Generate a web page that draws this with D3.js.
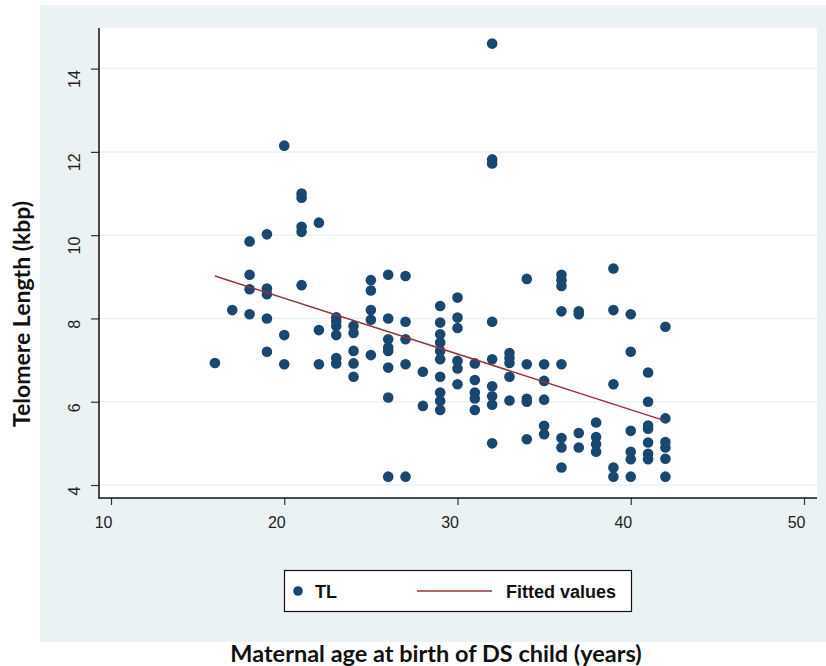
<!DOCTYPE html>
<html>
<head>
<meta charset="utf-8">
<script src="https://cdn.jsdelivr.net/npm/d3@7"></script>
<style>
  html, body { margin: 0; padding: 0; background: #ffffff; }
  svg { display: block; }
</style>
</head>
<body>
<svg id="chart" width="826" height="666"></svg>
<script>
// ---- data ----
const ages = [16,17,18,19,20,21,22,23,24,25,26,27,28,29,30,31,32,33,34,35,36,37,38,39,40,41,42];
const tlByAge = [
  [6.93],
  [8.2],
  [9.85, 9.05, 8.7, 8.1],
  [10.02, 8.72, 8.58, 8.0, 7.2],
  [12.15, 7.6, 6.9],
  [11.0, 10.9, 10.2, 10.08, 8.8],
  [10.3, 7.72, 6.9],
  [8.03, 7.93, 7.82, 7.6, 7.05, 6.92],
  [7.82, 7.65, 7.22, 6.92, 6.6],
  [8.92, 8.67, 8.2, 7.97, 7.12],
  [9.05, 8.0, 7.5, 7.3, 7.22, 6.82, 6.1, 4.2],
  [9.02, 7.92, 7.5, 6.9, 4.2],
  [6.72, 5.9],
  [8.3, 7.9, 7.62, 7.42, 7.22, 7.02, 6.6, 6.22, 6.02, 5.8],
  [8.5, 8.02, 7.77, 6.98, 6.8, 6.42],
  [6.92, 6.52, 6.22, 6.08, 5.8],
  [14.6, 11.82, 11.72, 7.92, 7.02, 6.37, 6.13, 5.93, 5.0],
  [7.17, 7.05, 6.93, 6.6, 6.03],
  [8.95, 6.9, 6.07, 6.0, 5.1],
  [6.9, 6.5, 6.05, 5.42, 5.22],
  [9.05, 8.92, 8.78, 8.17, 6.9, 5.13, 4.9, 4.42],
  [8.17, 8.1, 5.25, 4.9],
  [5.5, 5.15, 4.98, 4.8],
  [9.2, 8.2, 6.42, 4.42, 4.2],
  [8.1, 7.2, 5.3, 4.8, 4.62, 4.2],
  [6.7, 6.0, 5.43, 5.35, 5.02, 4.75, 4.62],
  [7.8, 5.6, 5.03, 4.9, 4.63, 4.2]
];
const fitAge = [16, 42];
const fitTL = [9.02, 5.54];
const xTicks = [10, 20, 30, 40, 50];
const yTicks = [4, 6, 8, 10, 12, 14];
const legendLabels = ["TL", "Fitted values"];
const xTitle = "Maternal age at birth of DS child (years)";
const yTitle = "Telomere Length (kbp)";

// ---- build point table ----
const points = [];
ages.forEach((a, i) => tlByAge[i].forEach(v => points.push({age: a, tl: v})));

const navy = "#1a476f";
const maroon = "#90353b";
const panelBg = "#eaf2f3";

const svg = d3.select("#chart");

// background panel
svg.append("rect").attr("x", 40).attr("y", 5).attr("width", 786).attr("height", 637).attr("fill", panelBg);

const plot = {left: 99, right: 817, top: 28, bottom: 498};
svg.append("rect").attr("x", plot.left).attr("y", plot.top)
  .attr("width", plot.right - plot.left).attr("height", plot.bottom - plot.top).attr("fill", "#ffffff");

const x = d3.scaleLinear().domain([10, 50]).range([111, 804]);
const y = d3.scaleLinear().domain([4, 14]).range([485, 68.6]);

// grid lines
svg.append("g").selectAll("line").data(yTicks).join("line")
  .attr("x1", plot.left).attr("x2", plot.right)
  .attr("y1", d => y(d)).attr("y2", d => y(d))
  .attr("stroke", panelBg).attr("stroke-width", 1.5);

// y axis
const yAxis = d3.axisLeft(y).tickValues(yTicks).tickSize(8).tickFormat(d3.format("d"));
const gy = svg.append("g").attr("transform", `translate(${plot.left},0)`).call(yAxis);
gy.select(".domain").remove();
gy.selectAll(".tick line").attr("stroke", "#333").attr("stroke-width", 1.2);
gy.selectAll(".tick text")
  .attr("x", 0).attr("y", 0).attr("dy", null)
  .attr("transform", "translate(-19,1) rotate(-90)")
  .attr("text-anchor", "end")
  .attr("font-family", "'Liberation Sans', Arial, sans-serif")
  .attr("font-size", 16).attr("fill", "#222");

// x axis
const xAxis = d3.axisBottom(x).tickValues(xTicks).tickSize(7).tickFormat(d3.format("d"));
const gx = svg.append("g").attr("transform", `translate(0,${plot.bottom})`).call(xAxis);
gx.select(".domain").remove();
gx.selectAll(".tick line").attr("stroke", "#333").attr("stroke-width", 1.2);
gx.selectAll(".tick text")
  .attr("x", 1).attr("y", 30).attr("dy", null)
  .attr("text-anchor", "end")
  .attr("font-family", "'Liberation Sans', Arial, sans-serif")
  .attr("font-size", 16).attr("fill", "#222");

// axis lines
svg.append("line").attr("x1", plot.left).attr("x2", plot.left).attr("y1", plot.top).attr("y2", plot.bottom + 0.7)
  .attr("stroke", "#111").attr("stroke-width", 1.5);
svg.append("line").attr("x1", plot.left).attr("x2", plot.right).attr("y1", plot.bottom).attr("y2", plot.bottom)
  .attr("stroke", "#111").attr("stroke-width", 1.5);

// points
svg.append("g").selectAll("circle").data(points).join("circle")
  .attr("cx", d => x(d.age)).attr("cy", d => y(d.tl)).attr("r", 5.3)
  .attr("fill", navy);

// fitted line
const fitData = fitAge.map((a, i) => ({age: a, tl: fitTL[i]}));
svg.append("path").datum(fitData)
  .attr("d", d3.line().x(d => x(d.age)).y(d => y(d.tl)))
  .attr("fill", "none").attr("stroke", maroon).attr("stroke-width", 1.5);

// legend
const lg = svg.append("g");
lg.append("rect").attr("x", 284.5).attr("y", 570.5).attr("width", 347).attr("height", 41)
  .attr("fill", "#fff").attr("stroke", "#111").attr("stroke-width", 1.2);
lg.append("circle").attr("cx", 298).attr("cy", 591).attr("r", 4.8).attr("fill", navy);
lg.append("text").attr("x", 315).attr("y", 598).text(legendLabels[0])
  .attr("font-family", "'Liberation Sans', Arial, sans-serif").attr("font-weight", "bold")
  .attr("font-size", 18).attr("fill", "#111");
lg.append("line").attr("x1", 417).attr("x2", 492).attr("y1", 591).attr("y2", 591)
  .attr("stroke", maroon).attr("stroke-width", 1.5);
lg.append("text").attr("x", 506).attr("y", 598).text(legendLabels[1])
  .attr("font-family", "'Liberation Sans', Arial, sans-serif").attr("font-weight", "bold")
  .attr("font-size", 18).attr("fill", "#111");

// titles
svg.append("text").attr("x", 436).attr("y", 662).attr("text-anchor", "middle")
  .text(xTitle)
  .attr("font-family", "Lato, 'Open Sans', sans-serif").attr("font-weight", "bold")
  .attr("font-size", 23.5).attr("fill", "#111");
svg.append("text").attr("transform", "translate(30,314) rotate(-90)").attr("text-anchor", "middle")
  .text(yTitle)
  .attr("font-family", "Lato, 'Open Sans', sans-serif").attr("font-weight", "bold")
  .attr("font-size", 23).attr("fill", "#111");
</script>
</body>
</html>
